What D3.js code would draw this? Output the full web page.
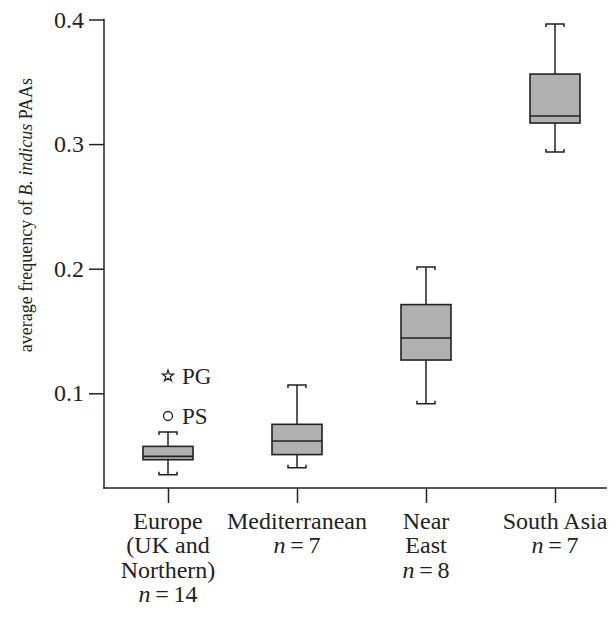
<!DOCTYPE html>
<html>
<head>
<meta charset="utf-8">
<script src="https://cdn.jsdelivr.net/npm/d3@7/dist/d3.min.js"></script>
<style>
  html, body { margin: 0; padding: 0; background: #fff; }
  svg { display: block; font-family: "Liberation Serif", "Times New Roman", serif; }
</style>
</head>
<body>
<svg id="chart" width="615" height="619"></svg>
<script>
// ---- data ----
const categories = ["Europe", "Mediterranean", "Near East", "South Asia"];
const labelLines = [
  ["Europe", "(UK and", "Northern)"],
  ["Mediterranean"],
  ["Near", "East"],
  ["South Asia"]
];
const sampleSizes = [14, 7, 8, 7];
const whiskerLow  = [0.0347, 0.0403, 0.0917, 0.2936];
const q1          = [0.0467, 0.0508, 0.1267, 0.3169];
const medians     = [0.0494, 0.0617, 0.1444, 0.3225];
const q3          = [0.0574, 0.0751, 0.1712, 0.3562];
const whiskerHigh = [0.0689, 0.1067, 0.2014, 0.3964];
const outlierCats   = ["Europe", "Europe"];
const outlierValues = [0.1139, 0.0818];
const outlierLabels = ["PG", "PS"];
const outlierShapes = ["star", "circle"];
const yTicks = [0.1, 0.2, 0.3, 0.4];
const yLabelPre = "average frequency of ";
const yLabelItalic = "B. indicus";
const yLabelPost = " PAAs";

// ---- layout ----
const svg = d3.select("#chart");
const axisLeftX = 104, axisBottomY = 488, axisRightX = 607;
const ink = "#222";

const y = d3.scaleLinear().domain([0.024, 0.4]).range([axisBottomY, 19.5]);
const x = d3.scalePoint().domain(categories).range([168, 555]);

// y axis
const yAxis = d3.axisLeft(y).tickValues(yTicks).tickFormat(d3.format(".1f"))
  .tickSize(15).tickPadding(5).tickSizeOuter(0);
const gy = svg.append("g").attr("transform", `translate(${axisLeftX},0)`).call(yAxis);
gy.select(".domain").remove();
gy.selectAll(".tick line").attr("stroke", ink).attr("stroke-width", 1.5);
gy.selectAll(".tick text").attr("fill", ink).style("font-size", "24px")
  .style("font-family", "Liberation Serif");
svg.append("line").attr("x1", axisLeftX).attr("x2", axisLeftX)
  .attr("y1", y(0.4) - 0.75).attr("y2", axisBottomY + 0.75)
  .attr("stroke", ink).attr("stroke-width", 1.5);

// x axis
const xAxis = d3.axisBottom(x).tickSize(15).tickFormat("").tickSizeOuter(0);
const gx = svg.append("g").attr("transform", `translate(0,${axisBottomY})`).call(xAxis);
gx.select(".domain").remove();
gx.selectAll(".tick line").attr("stroke", ink).attr("stroke-width", 1.5);
svg.append("line").attr("x1", axisLeftX - 0.75).attr("x2", axisRightX)
  .attr("y1", axisBottomY).attr("y2", axisBottomY)
  .attr("stroke", ink).attr("stroke-width", 1.5);

// category labels
const labelBase = 528.5, lineH = 24.5;
categories.forEach((c, i) => {
  const t = svg.append("text").attr("x", x(c)).attr("y", labelBase)
    .attr("text-anchor", "middle").attr("fill", ink).style("font-size", "24px");
  labelLines[i].forEach((ln, j) => {
    t.append("tspan").attr("x", x(c)).attr("y", labelBase + j * lineH).text(ln);
  });
  const nl = svg.append("text").attr("x", x(c))
    .attr("y", labelBase + labelLines[i].length * lineH)
    .attr("text-anchor", "middle").attr("fill", ink).style("font-size", "24px");
  nl.append("tspan").style("font-style", "italic").text("n");
  nl.append("tspan").text("\u2009=\u2009" + sampleSizes[i]);
});

// boxes
const boxW = 50, capW = 18;
const g = svg.append("g");
categories.forEach((c, i) => {
  const cx = x(c);
  g.append("line").attr("x1", cx).attr("x2", cx).attr("y1", y(whiskerHigh[i])).attr("y2", y(q3[i]))
    .attr("stroke", ink).attr("stroke-width", 1.5);
  g.append("line").attr("x1", cx).attr("x2", cx).attr("y1", y(q1[i])).attr("y2", y(whiskerLow[i]))
    .attr("stroke", ink).attr("stroke-width", 1.5);
  [whiskerHigh[i], whiskerLow[i]].forEach((v, k) => {
    const yy = y(v);
    const dir = k === 0 ? 1 : -1;
    g.append("path")
      .attr("d", `M${cx - capW / 2},${yy + dir * 3}V${yy}H${cx + capW / 2}V${yy + dir * 3}`)
      .attr("fill", "none").attr("stroke", ink).attr("stroke-width", 1.5);
  });
  g.append("rect").attr("x", cx - boxW / 2).attr("y", y(q3[i]))
    .attr("width", boxW).attr("height", y(q1[i]) - y(q3[i]))
    .attr("fill", "#b0b0b0").attr("stroke", ink).attr("stroke-width", 1.6);
  g.append("line").attr("x1", cx - boxW / 2).attr("x2", cx + boxW / 2)
    .attr("y1", y(medians[i])).attr("y2", y(medians[i]))
    .attr("stroke", ink).attr("stroke-width", 1.6);
});

// outliers
outlierValues.forEach((v, i) => {
  const cx = x(outlierCats[i]), cy = y(v);
  if (outlierShapes[i] === "circle") {
    g.append("circle").attr("cx", cx).attr("cy", cy).attr("r", 4.5)
      .attr("fill", "none").attr("stroke", ink).attr("stroke-width", 1.3);
  } else {
    g.append("path").attr("transform", `translate(${cx},${cy})`)
      .attr("d", d3.symbol().type(d3.symbolStar).size(40)())
      .attr("fill", "none").attr("stroke", ink).attr("stroke-width", 1.2);
  }
  svg.append("text").attr("x", cx + 14).attr("y", cy + 8)
    .attr("fill", ink).style("font-size", "23px").text(outlierLabels[i]);
});

// y label
const yl = svg.append("text").attr("transform", "translate(32,215) rotate(-90)")
  .attr("text-anchor", "middle").attr("fill", ink).style("font-size", "18px");
yl.append("tspan").text(yLabelPre);
yl.append("tspan").style("font-style", "italic").text(yLabelItalic);
yl.append("tspan").text(yLabelPost);
</script>
</body>
</html>
